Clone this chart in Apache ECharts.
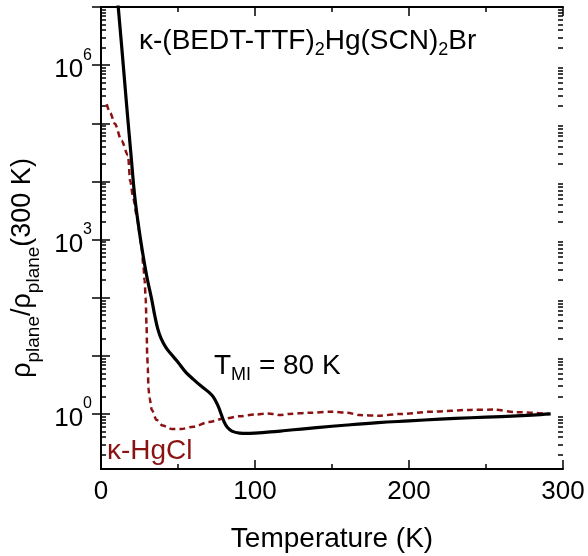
<!DOCTYPE html>
<html>
<head>
<meta charset="utf-8">
<title>rho plane</title>
<script src="https://cdn.jsdelivr.net/npm/echarts@6.0.0/dist/echarts.min.js"></script>
<style>
  html, body { margin: 0; padding: 0; background: #fff; }
  #main { width: 588px; height: 556px; }
</style>
</head>
<body>
<div id="main"></div>
<script>
// 数据: 温度 (K) 和 rho/rho(300K)
var tempBr = [10.3, 11.2, 13, 15, 17, 19.5, 22, 25, 27.5, 30, 33, 35, 37, 39, 42, 45.5, 50, 55, 60, 65, 70,
  73, 76, 78, 80, 82, 85, 90, 95, 100, 110, 120, 130, 140, 160, 180, 200, 220, 240, 260, 280, 292];
var rhoBr = [2e7, 1e7, 2.82e6, 6.76e5, 1.58e5, 2.82e4, 5250, 1318, 501, 214, 91.2, 47.9, 28.2, 20.0, 14.1,
  10.7, 7.76, 5.25, 3.94, 3.02, 2.37, 1.95, 1.38, 1.0, 0.724, 0.589, 0.507, 0.468, 0.462, 0.468, 0.49, 0.519,
  0.55, 0.582, 0.646, 0.708, 0.759, 0.813, 0.861, 0.902, 0.955, 1.0];

var tempCl = [3.7, 6, 9, 13.4, 17.5, 19, 21, 23.2, 25, 26.4, 27.5, 28.3, 29, 29.6, 30, 30.4, 30.8, 31.5,
  33, 36, 40, 46, 52, 60, 70, 80, 90, 100, 108, 112, 116, 122, 135, 150, 160, 168, 180, 195, 215, 240,
  255, 270, 291];
var rhoCl = [2.14e5, 1.51e5, 9.77e4, 5.01e4, 2.82e4, 1e4, 5012, 2630, 1318, 708, 355, 200, 100, 31.6, 10,
  6.3, 2.82, 1.9, 1.17, 0.794, 0.631, 0.55, 0.55, 0.603, 0.724, 0.832, 0.912, 0.977, 1.023, 1.0, 0.955,
  1.0, 1.047, 1.096, 1.047, 0.955, 0.933, 1.0, 1.096, 1.175, 1.189, 1.072, 1.0];

// 坐标轴刻度
var xTicks = [0, 100, 200, 300];
var yMajor = [1e-1, 1, 10, 100, 1e3, 1e4, 1e5, 1e6, 1e7];
var yLabels = [1, 1e3, 1e6];
var yMinor = [];
for (var e = -1; e < 7; e++) {
  for (var m = 2; m < 10; m++) {
    yMinor.push(m * Math.pow(10, e));
  }
}

var yMin = 0.113, yMax = 1e7;
var darkRed = '#8b1212';
var font = 'Liberation Sans, Arial, sans-serif';

function zip(xs, ys) {
  return xs.map(function (x, i) { return [x, ys[i]]; });
}

var myChart = echarts.init(document.getElementById('main'));

// y 轴 (左右两侧, 大刻度和小刻度各一条)
function logAxis(pos, ticks, len, showLine, showLabel) {
  return {
    type: 'log',
    logBase: 10,
    min: yMin,
    max: yMax,
    position: pos,
    axisLine: { show: showLine, lineStyle: { color: '#000', width: 2 } },
    axisTick: { show: true, inside: true, length: len, customValues: ticks,
      lineStyle: { color: '#000', width: 1.5 } },
    axisLabel: {
      show: showLabel,
      customValues: yLabels,
      margin: 9,
      formatter: function (v) {
        return '{b|10}{s|' + Math.round(Math.log10(v)) + '}';
      },
      rich: {
        b: { fontSize: 26, lineHeight: 36, color: '#000', verticalAlign: 'bottom' },
        s: { fontSize: 16, lineHeight: 16, color: '#000', verticalAlign: 'top' }
      }
    },
    splitLine: { show: false },
    minorTick: { show: false }
  };
}

var yLeft = logAxis('left', yMajor, 9, true, true);
yLeft.name = '{r|ρ}{sub|plane}{r|/ρ}{sub|plane}{r|(300 K)}';
yLeft.nameLocation = 'middle';
yLeft.nameRotate = 90;
yLeft.nameGap = 57;
yLeft.nameTextStyle = {
  padding: [0, 60, 0, 0],
  rich: {
    r: { fontSize: 27, lineHeight: 34, color: '#000', verticalAlign: 'top' },
    sub: { fontSize: 19, lineHeight: 19, color: '#000', verticalAlign: 'bottom' }
  }
};

function linAxis(pos, showLabel) {
  return {
    type: 'value',
    min: 0,
    max: 300,
    interval: 100,
    position: pos,
    axisLine: { show: true, lineStyle: { color: '#000', width: 2 } },
    axisTick: { show: true, inside: true, length: 9, lineStyle: { color: '#000', width: 1.5 } },
    minorTick: { show: true, splitNumber: 2, length: 5, lineStyle: { color: '#000', width: 1.5 } },
    axisLabel: { show: showLabel, fontSize: 26, color: '#000', margin: 10 },
    splitLine: { show: false }
  };
}

var xBottom = linAxis('bottom', true);
xBottom.name = 'Temperature (K)';
xBottom.nameLocation = 'middle';
xBottom.nameGap = 56;
xBottom.nameTextStyle = { fontSize: 28, color: '#000' };

// 上下标用的 rich 样式
var richSub = {
  m: { fontSize: 28, lineHeight: 32, fill: '#000', fontFamily: font, verticalAlign: 'top' },
  s: { fontSize: 18, lineHeight: 18, fill: '#000', fontFamily: font, verticalAlign: 'bottom' }
};

var option = {
  animation: false,
  backgroundColor: '#fff',
  textStyle: { fontFamily: font },
  grid: { left: 101, right: 25, top: 7, bottom: 87, containLabel: false, outerBoundsMode: 'none' },
  xAxis: [xBottom, linAxis('top', false)],
  yAxis: [
    yLeft,
    logAxis('right', yMajor, 9, true, false),
    logAxis('left', yMinor, 5, false, false),
    logAxis('right', yMinor, 5, false, false)
  ],
  graphic: [
    {
      type: 'text', x: 139, y: 43,
      style: {
        text: '{m|κ-(BEDT-TTF)}{s|2}{m|Hg(SCN)}{s|2}{m|Br}',
        verticalAlign: 'middle',
        rich: richSub
      }
    },
    {
      type: 'text', x: 214, y: 368,
      style: {
        text: '{m|T}{s|MI}{m| = 80 K}',
        verticalAlign: 'middle',
        rich: richSub
      }
    },
    {
      type: 'text', x: 107, y: 451,
      style: { text: 'κ-HgCl', fontSize: 28, fill: darkRed, verticalAlign: 'middle', fontFamily: font }
    }
  ],
  series: [
    {
      name: 'κ-HgCl',
      type: 'line',
      data: zip(tempCl, rhoCl),
      showSymbol: false,
      smooth: 0.3,
      smoothMonotone: 'x',
      clip: true,
      lineStyle: { color: darkRed, width: 2.5, type: [6, 4] }
    },
    {
      name: 'κ-HgBr',
      type: 'line',
      data: zip(tempBr, rhoBr),
      showSymbol: false,
      smooth: 0.4,
      clip: true,
      lineStyle: { color: '#000', width: 3.2, join: 'round' }
    }
  ]
};

myChart.setOption(option);
</script>
</body>
</html>
